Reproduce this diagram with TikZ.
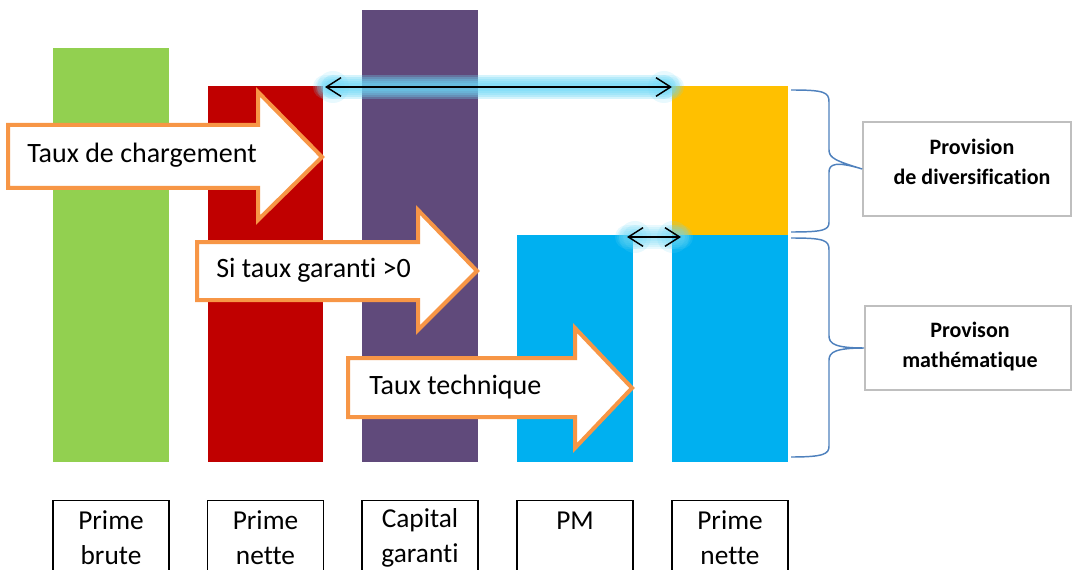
\documentclass[tikz,border=0pt]{standalone}
\usepackage{fontspec}
\setmainfont[Ligatures=NoCommon]{Carlito}
\usetikzlibrary{arrows.meta}
\definecolor{barGreen}{HTML}{92D050}
\definecolor{barRed}{HTML}{C00000}
\definecolor{barPurple}{HTML}{604A7B}
\definecolor{barBlue}{HTML}{00B0F0}
\definecolor{barYellow}{HTML}{FFC000}
\definecolor{arOrange}{HTML}{F79646}
\definecolor{brBlue}{HTML}{4F81BD}
\definecolor{glowCyan}{HTML}{6FD8F6}
\begin{document}
\begin{tikzpicture}[x=0.75pt,y=-0.75pt]
			\tikzset{blockar/.style={draw=arOrange, fill=white, line width=3pt, line join=miter}}
			\tikzset{artext/.style={anchor=west, inner sep=0pt, font=\fontsize{21}{24}\selectfont}}
			\tikzset{labbox/.style={draw=black, line width=0.9pt, minimum width=87pt,
						minimum height=56.25pt, anchor=north, align=center, inner sep=0pt,
						font=\fontsize{20.5}{26.25}\selectfont}}
			\tikzset{provbox/.style={draw=black!25, line width=1.2pt, inner sep=0pt}}
			\tikzset{provtext/.style={align=center, inner sep=0pt,
						font=\bfseries\fontsize{16.5}{22.5}\selectfont}}
			\tikzset{brace/.style={draw=brBlue, line width=1.1pt}}
			\tikzset{dyarrow/.style={line width=1.1pt, {Straight Barb[length=11pt,width=14pt]}-{Straight Barb[length=11pt,width=14pt]}}}
			\tikzset{glow/.style={glowCyan, opacity=0.16, line cap=round}}

				\useasboundingbox (0,0) rectangle (1073,570);
				\clip (0,0) rectangle (1073,570);

				% bars
				\fill[barGreen] (53,48) rectangle (169,462);
				\fill[barRed] (208,86) rectangle (323,462);
				\fill[barPurple] (362,10) rectangle (478,462);
				\fill[barBlue] (517,235) rectangle (633,462);
				\fill[barYellow] (672,86) rectangle (788,235);
				\fill[barBlue] (672,235) rectangle (788,462);

				% block arrows
				\draw[blockar] (8,125) -- (258,125) -- (258,92) -- (322,157) -- (258,220) -- (258,188) -- (8,188) -- cycle;
				\node[artext] (t1) at (27,155) {Taux de chargement};
				\draw[blockar] (197,242) -- (418,242) -- (418,210) -- (477,271) -- (418,330) -- (418,300) -- (197,300) -- cycle;
				\node[artext] (t2) at (216,270) {Si taux garanti >0};
				\draw[blockar] (348,358) -- (575,358) -- (575,328) -- (632,388) -- (575,448) -- (575,417) -- (348,417) -- cycle;
				\node[artext] (t3) at (369,387) {Taux technique};

				% double arrows with glow
				\coordinate (h1) at (325,87);
				\coordinate (h2) at (672,87);
				\coordinate (k1) at (627,237);
				\coordinate (k2) at (681,237);
				\foreach \w in {18,15,12,9,6}{
					\draw[glow, line width=\w pt] (h1) -- (h2);
					\draw[glow, line width=\w pt] (k1) -- (k2);
					\draw[glow, line width=\w pt] ([xshift=6pt]h1) -- ([xshift=-6pt]h2);
				}
				\foreach \c/\s in {h1/1,h2/-1,k1/1,k2/-1}{
					\foreach \r in {16,12,8}{
						\fill[glow] ([xshift=\s*6pt]\c) circle (\r);
					}
				}
				\draw[dyarrow] (h1) -- (h2);
				\draw[dyarrow] (k1) -- (k2);

				% provision boxes
				\node[provbox, minimum width=156pt, minimum height=70.5pt] (pd) at (967,169) {};
				\node[provtext] (pdt) at (972,162) {Provision\\de diversification};
				\node[provbox, minimum width=154.5pt, minimum height=63pt] (pm) at (968,348) {};
				\node[provtext] (pmt) at (970,347) {Provison\\math\'ematique};

				% braces
				\draw[brace] (791,90) .. controls (824,90) and (829,92) .. (829,102) -- (829,150)
					.. controls (829,158) and (836,161) .. (pd.west) .. controls (836,161) and (829,164) .. (829,172)
					-- (829,222) .. controls (829,230) and (824,232) .. (791,232);
				\draw[brace] (791,238) .. controls (824,238) and (829,240) .. (829,250) -- (829,336)
					.. controls (829,344) and (836,348) .. (pm.west) .. controls (836,348) and (829,352) .. (829,360)
					-- (829,446) .. controls (829,454) and (824,457) .. (791,457);

				% labels
				\node[labbox] (l1) at (111,500) {Prime\\brute};
				\node[labbox] (l2) at (265.5,500) {Prime\\nette};
				\node[labbox] (l3) at (420,500) {Capital\\garanti};
				\node[labbox] (l4) at (575,500) {PM\\\phantom{brute}};
				\node[labbox] (l5) at (730,500) {Prime\\nette};
		\end{tikzpicture}
\end{document}
